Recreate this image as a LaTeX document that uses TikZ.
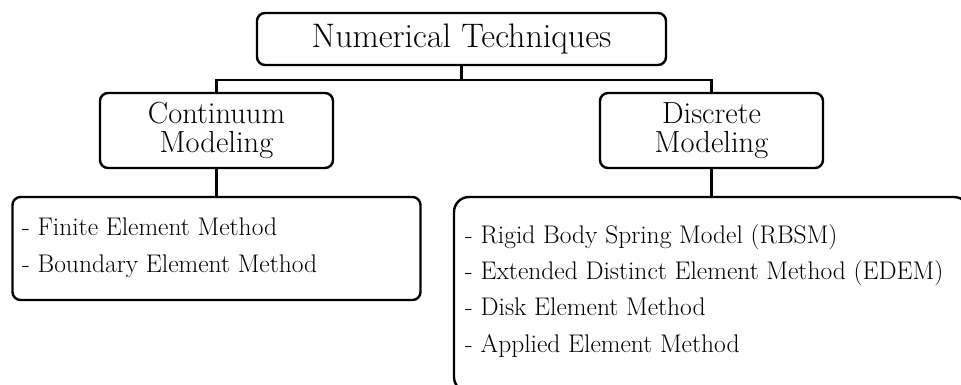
\documentclass[tikz,border=0pt]{standalone}
\usepackage{fontspec}
\begin{document}
\begin{tikzpicture}[x=1pt,y=-1pt,
  box/.style={draw=black,line width=2.4pt,rounded corners=8pt,inner sep=0pt},
  link/.style={draw=black,line width=2.4pt},
  listtext/.style={anchor=base west,align=left,inner sep=0pt,font=\fontsize{25.5}{37}\selectfont}]
\useasboundingbox (0,0) rectangle (961,385);
\clip (0,0) rectangle (961,385);
\node[box,minimum width=409pt,minimum height=52pt,font=\fontsize{34}{36}\selectfont] (top) at (461.5,39) {Numerical Techniques};
\node[box,minimum width=233pt,minimum height=75pt,align=center,font=\fontsize{30.5}{29}\selectfont] (cont) at (216.5,130.5) {Continuum\\Modeling};
\node[box,minimum width=223pt,minimum height=75pt,align=center,font=\fontsize{30.5}{29}\selectfont] (disc) at (711.5,130.5) {Discrete\\Modeling};
\node[box,minimum width=408pt,minimum height=103pt] (lbox) at (216.5,248.5) {};
\node[box,rounded corners=15pt,minimum width=515pt,minimum height=195pt] (rbox) at (711.5,294.5) {};
\node[listtext] (ltext) at (22,272) {- Finite Element Method\\- Boundary Element Method};
\node[listtext,font=\fontsize{25.5}{36.3}\selectfont] (rtext) at (465,352) {- Rigid Body Spring Model (RBSM)\\- Extended Distinct Element Method (EDEM)\\- Disk Element Method\\- Applied Element Method};
\coordinate (bar) at (461.5,80);
\draw[link] (top.south) -- (bar);
\draw[link] (cont.north) |- (bar) -| (disc.north);
\draw[link] (cont.south) -- (lbox.north);
\draw[link] (disc.south) -- (rbox.north);
\end{tikzpicture}
\end{document}
